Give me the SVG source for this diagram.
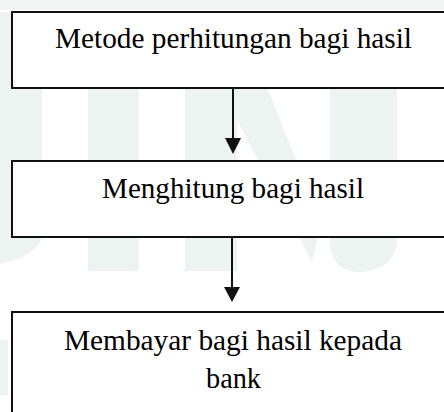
<svg xmlns="http://www.w3.org/2000/svg" width="444" height="412" viewBox="0 0 444 412">
  <style>
    .wm { fill: #edf3f1; }
    .box { fill: #ffffff; stroke: #111111; stroke-width: 2; }
    .lbl { font-family: 'Liberation Serif', 'Times New Roman', Times, serif; font-size: 29px; fill: #000000; text-anchor: middle; }
    .conn { stroke: #111111; stroke-width: 2; fill: none; }
    .head { fill: #111111; }
  </style>
  <rect x="0" y="0" width="444" height="412" fill="#ffffff"/>
  <g id="watermark">
    <rect x="0" y="0" width="444" height="10" fill="#f2f4f3"/>
    <path class="wm" d="M0 12 H42 V236 Q38 256 0 264 Z"/>
    <rect class="wm" x="88" y="12" width="51" height="259"/>
    <path class="wm" d="M185 12 H237 L300 170 L318 237 L312 262 L237 120 V271 H185 Z"/>
    <path class="wm" d="M357 60 H397 V245 Q390 272 358 272 Q332 270 330 245 V90 Q332 62 357 60 Z"/>
    <rect class="wm" x="0" y="340" width="8" height="55"/>
  </g>
  <g id="connectors">
    <line class="conn" x1="233" y1="88" x2="233" y2="140"/>
    <polygon class="head" points="225,138 241,138 233,154"/>
    <line class="conn" x1="232" y1="237" x2="232" y2="289"/>
    <polygon class="head" points="224,287 240,287 232,302"/>
  </g>
  <g id="node1">
    <rect class="box" x="12" y="12" width="445" height="76"/>
    <text class="lbl" font-family="Liberation Serif, serif" x="233.5" y="48" textLength="357" lengthAdjust="spacingAndGlyphs">Metode perhitungan bagi hasil</text>
  </g>
  <g id="node2">
    <rect class="box" x="12" y="161" width="445" height="76"/>
    <text class="lbl" font-family="Liberation Serif, serif" x="233" y="198" textLength="262" lengthAdjust="spacingAndGlyphs">Menghitung bagi hasil</text>
  </g>
  <g id="node3">
    <rect class="box" x="12" y="312" width="445" height="130"/>
    <text class="lbl" font-family="Liberation Serif, serif" x="233" y="350" textLength="338" lengthAdjust="spacingAndGlyphs">Membayar bagi hasil kepada</text>
    <text class="lbl" font-family="Liberation Serif, serif" x="233.5" y="388" textLength="55" lengthAdjust="spacingAndGlyphs">bank</text>
  </g>
</svg>
